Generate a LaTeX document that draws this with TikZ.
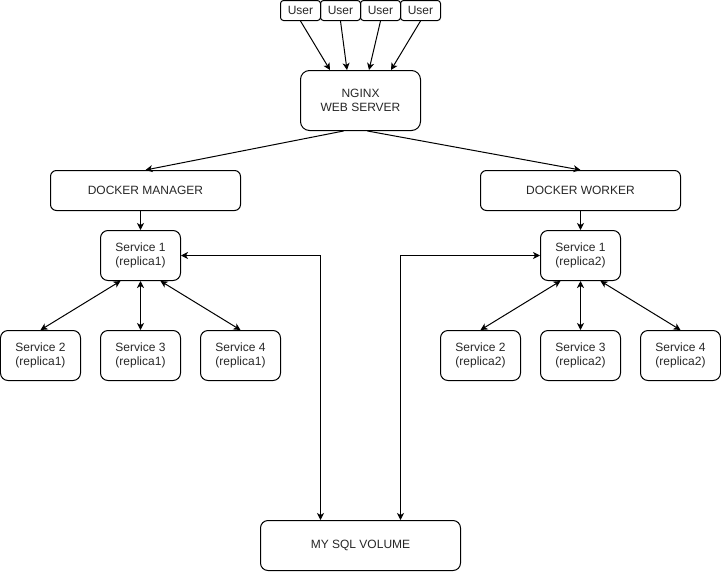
\documentclass[tikz,border=0pt]{standalone}
\usepackage{fontspec}
\setmainfont{Liberation Sans}
\usetikzlibrary{arrows.meta}
\begin{document}
\begin{tikzpicture}[x=1pt,y=-1pt,
  box/.style={draw=black, line width=1pt, inner sep=0pt, align=center,
    font=\fontsize{12}{14.4}\selectfont, text=black!85},
  userbox/.style={box, minimum width=40pt, minimum height=20pt, rounded corners=3pt},
  svc/.style={box, minimum width=80pt, minimum height=50pt, rounded corners=7.5pt},
  dock/.style={box, minimum height=40pt, rounded corners=6pt},
  arr/.style={line width=1pt, -{Stealth[length=7pt,width=7pt,inset=2pt]}},
  darr/.style={line width=1pt, {Stealth[length=7pt,width=7pt,inset=2pt]}-{Stealth[length=7pt,width=7pt,inset=2pt]}}
]
\useasboundingbox (-0.5,-0.5) rectangle (720.5,570.5);

\node[userbox] (u1) at (300,10) {User};
\node[userbox] (u2) at (340,10) {User};
\node[userbox] (u3) at (380,10) {User};
\node[userbox] (u4) at (420,10) {User};

\node[box, minimum width=120pt, minimum height=60pt, rounded corners=9pt] (nginx) at (360,100) {NGINX\\WEB SERVER};

\node[dock, minimum width=190pt] (mgr) at (145,190) {DOCKER MANAGER};
\node[dock, minimum width=200pt] (wrk) at (580,190) {DOCKER WORKER};

\node[svc] (s1a) at (140,255) {Service 1\\(replica1)};
\node[svc] (s2a) at (40,355) {Service 2\\(replica1)};
\node[svc] (s3a) at (140,355) {Service 3\\(replica1)};
\node[svc] (s4a) at (240,355) {Service 4\\(replica1)};

\node[svc] (s1b) at (580,255) {Service 1\\(replica2)};
\node[svc] (s2b) at (480,355) {Service 2\\(replica2)};
\node[svc] (s3b) at (580,355) {Service 3\\(replica2)};
\node[svc] (s4b) at (680,355) {Service 4\\(replica2)};

\node[box, minimum width=200pt, minimum height=50pt, rounded corners=7.5pt] (db) at (360,545) {MY SQL VOLUME};

\draw[arr] (u1.south) -- ([xshift=30pt]nginx.north west);
\draw[arr] (u2.south) -- ([xshift=47pt]nginx.north west);
\draw[arr] (u3.south) -- ([xshift=69pt]nginx.north west);
\draw[arr] (u4.south) -- ([xshift=91pt]nginx.north west);

\draw[arr] ([xshift=-17pt]nginx.south) -- (mgr.north);
\draw[arr] ([xshift=7pt]nginx.south) -- (wrk.north);

\draw[arr] (s1a.north |- mgr.south) -- (s1a.north);
\draw[arr] (wrk.south) -- (s1b.north);

\draw[darr] ([xshift=-20pt]s1a.south) -- (s2a.north);
\draw[darr] (s1a.south) -- (s3a.north);
\draw[darr] ([xshift=20pt]s1a.south) -- (s4a.north);

\draw[darr] ([xshift=-20pt]s1b.south) -- (s2b.north);
\draw[darr] (s1b.south) -- (s3b.north);
\draw[darr] ([xshift=20pt]s1b.south) -- (s4b.north);

\draw[darr] (s1a.east) -| ([xshift=-40pt]db.north);
\draw[darr] (s1b.west) -| ([xshift=40pt]db.north);
\end{tikzpicture}
\end{document}
